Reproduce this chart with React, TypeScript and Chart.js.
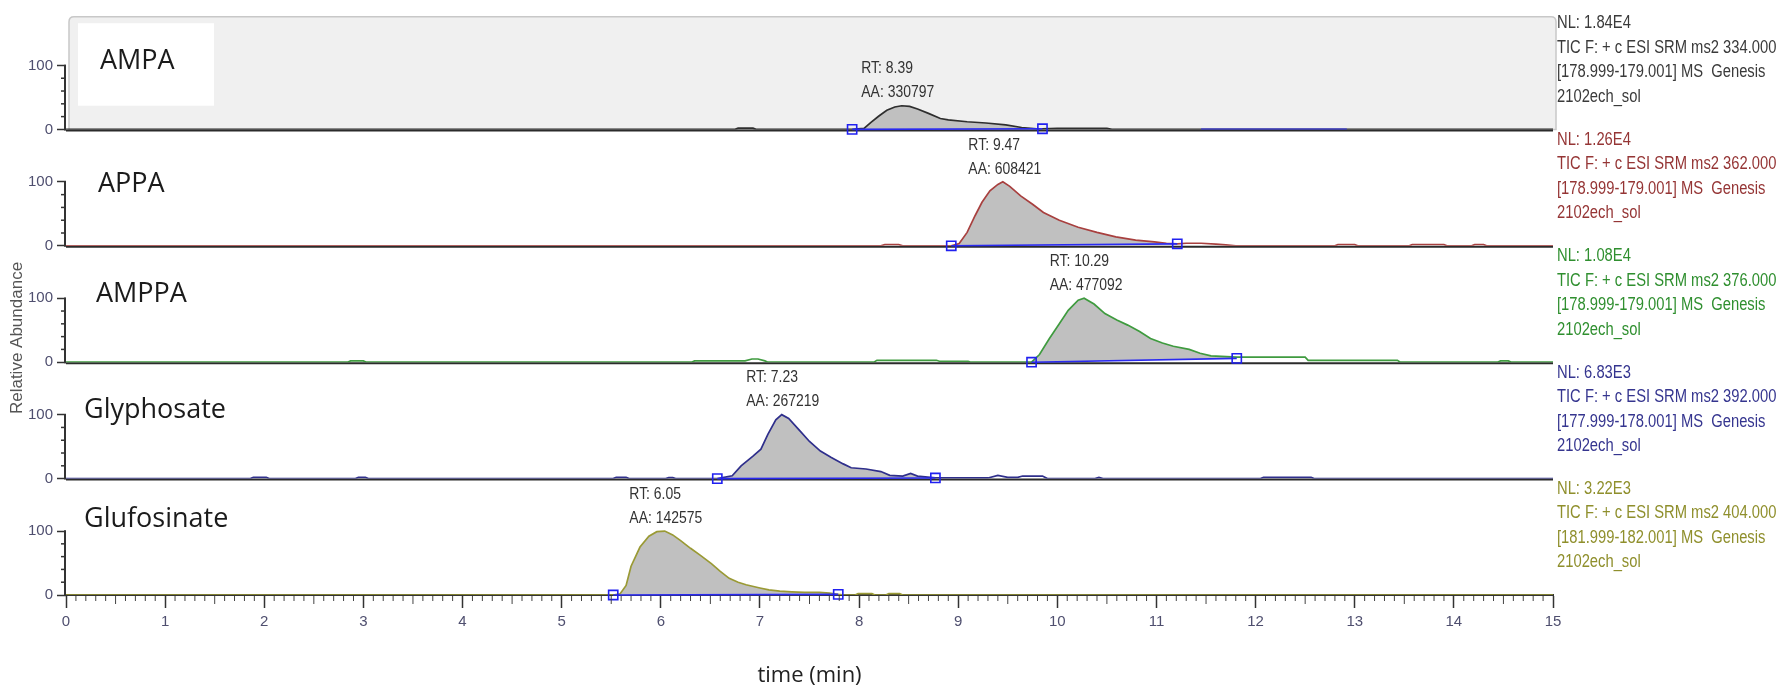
import React, { useEffect, useRef } from 'react';
import { Chart, registerables } from 'chart.js';

Chart.register(...registerables);

// ---------------- data ----------------
const panelNames = ['AMPA', 'APPA', 'AMPPA', 'Glyphosate', 'Glufosinate'];
const rtValues = [8.39, 9.47, 10.29, 7.23, 6.05];
const aaValues = [330797, 608421, 477092, 267219, 142575];
const nlValues = ['1.84E4', '1.26E4', '1.08E4', '6.83E3', '3.22E3'];
const precursorMz = ['334.000', '362.000', '376.000', '392.000', '404.000'];
const productRanges = ['178.999-179.001', '178.999-179.001', '178.999-179.001', '177.999-178.001', '181.999-182.001'];
const rawFileName = '2102ech_sol';
const xTitle = 'time (min)';
const yTitle = 'Relative Abundance';
const yLabeledTicks = [0, 100];
const yMinorTicks = [20, 40, 60, 80];

const ampaTime = [0, 6.75, 6.78, 6.93, 6.96, 7.93, 8.05, 8.12, 8.2, 8.28, 8.36, 8.43, 8.51, 8.59, 8.7, 8.82, 8.9, 9.09, 9.28, 9.48, 9.64, 9.79, 9.85, 10.0, 10.5, 10.55, 15];
const ampaAbund = [0, 0, 2, 2, 0, 0, 1.5, 11, 21, 30, 35, 37, 36, 32, 25, 17, 15, 12, 10, 7, 3, 1, 1, 1.5, 1.5, 0, 0];
const ampaBaseTime = [7.93, 9.85];
const ampaBaseAbund = [0, 1];
const ampaExtraTime = [11.45, 12.92];
const ampaExtraAbund = [0, 0];

const appaTime = [0, 8.22, 8.26, 8.4, 8.44, 8.93, 9.01, 9.09, 9.17, 9.24, 9.32, 9.4, 9.45, 9.52, 9.63, 9.75, 9.86, 10.02, 10.21, 10.4, 10.59, 10.79, 10.98, 11.1, 11.21, 11.3, 11.45, 11.6, 11.7, 11.8, 12.8, 12.83, 13.0, 13.03, 13.55, 13.58, 13.9, 13.93, 14.18, 14.21, 14.3, 14.33, 15];
const appaAbund = [0, 0, 2, 2, 0, 0, 3.5, 21, 47, 68, 86, 96, 100, 93, 78, 65, 52, 40, 29, 21, 14, 9, 6, 4, 3, 4, 4, 2.5, 1.5, 0, 0, 2, 2, 0, 0, 2, 2, 0, 0, 2, 2, 0, 0];
const appaBaseTime = [8.93, 11.21];
const appaBaseAbund = [0, 3];

const amppaTime = [0, 2.84, 2.87, 3.0, 3.03, 6.31, 6.34, 6.85, 6.92, 6.98, 7.05, 7.08, 8.15, 8.18, 8.78, 8.81, 9.1, 9.13, 9.74, 9.82, 9.92, 10.02, 10.11, 10.21, 10.27, 10.37, 10.48, 10.6, 10.71, 10.83, 10.94, 11.06, 11.17, 11.33, 11.44, 11.55, 11.81, 12.5, 12.53, 13.43, 13.46, 14.44, 14.47, 14.55, 14.58, 15];
const amppaAbund = [0, 0, 2, 2, 0, 0, 2, 2, 5, 5, 2, 0, 0, 3, 3, 1.5, 1.5, 0, 0, 12, 37, 60, 81, 97, 100, 91, 76, 66, 58, 48, 37, 30, 25, 20, 14, 10, 8, 8, 3, 3, 0, 0, 2, 2, 0, 0];
const amppaBaseTime = [9.74, 11.81];
const amppaBaseAbund = [0, 6];

const glyTime = [0, 1.86, 1.89, 2.02, 2.05, 2.92, 2.95, 3.02, 3.05, 5.52, 5.55, 5.65, 5.68, 6.05, 6.08, 6.12, 6.15, 6.57, 6.72, 6.81, 6.93, 7.01, 7.08, 7.16, 7.22, 7.29, 7.39, 7.5, 7.61, 7.72, 7.84, 7.92, 8.07, 8.22, 8.31, 8.44, 8.52, 8.59, 8.77, 9.3, 9.4, 9.5, 9.6, 9.65, 9.85, 9.9, 10.38, 10.42, 10.46, 12.05, 12.08, 12.56, 12.59, 15];
const glyAbund = [0, 0, 2, 2, 0, 0, 2, 2, 0, 0, 2, 2, 0, 0, 1.5, 1.5, 0, 0, 4.5, 20, 35, 46, 69, 92, 100, 94, 77, 58, 43, 33, 23, 17, 15, 11, 5, 4, 8, 4, 1, 1, 5, 2, 2, 4, 4, 0, 0, 2, 0, 0, 2, 2, 0, 0];
const glyBaseTime = [6.57, 8.77];
const glyBaseAbund = [0, 1];

const glufTime = [0, 5.52, 5.59, 5.65, 5.7, 5.79, 5.88, 5.96, 6.04, 6.12, 6.2, 6.3, 6.4, 6.51, 6.6, 6.69, 6.78, 6.86, 7.0, 7.09, 7.2, 7.32, 7.45, 7.6, 7.7, 7.79, 7.85, 7.96, 7.99, 8.13, 8.16, 8.27, 8.3, 8.41, 8.44, 15];
const glufAbund = [0, 0, 2, 15, 45, 75, 92, 99, 100, 94, 85, 73, 62, 49, 37, 26, 20, 16, 11, 8, 6, 5, 4, 4, 3, 1, 0, 0, 2, 2, 0, 0, 2, 2, 0, 0];
const glufBaseTime = [5.52, 7.79];
const glufBaseAbund = [0, 1];

// ---------------- styles ----------------
const SANS = "'Liberation Sans', Arial, sans-serif";
const NARROW_SCALE = 0.82;
const traceColors = ['#2e2e2e', '#a8403f', '#3f9b3f', '#2f2f8c', '#9a9a35'];
const infoColors = ['#3a3a3a', '#953535', '#2f8f2f', '#35358f', '#8f8f2c'];
const labelOffsetPx = [34, 32, 30, 18, 18];
const labelBaseValue = [95, 84, 94, 94, 106];
const axisIds = ['yP0', 'yP1', 'yP2', 'yP3', 'yP4'];
const tickColor = '#4f4f6f';

const traces = [
  { time: ampaTime, abund: ampaAbund, baseTime: ampaBaseTime, baseAbund: ampaBaseAbund },
  { time: appaTime, abund: appaAbund, baseTime: appaBaseTime, baseAbund: appaBaseAbund },
  { time: amppaTime, abund: amppaAbund, baseTime: amppaBaseTime, baseAbund: amppaBaseAbund },
  { time: glyTime, abund: glyAbund, baseTime: glyBaseTime, baseAbund: glyBaseAbund },
  { time: glufTime, abund: glufAbund, baseTime: glufBaseTime, baseAbund: glufBaseAbund },
];

const toPts = (t: number[], v: number[]) => t.map((x, i) => ({ x, y: v[i] }));

function buildDatasets() {
  const ds: any[] = [];
  traces.forEach((tr, i) => {
    const axis = axisIds[i];
    const s = tr.baseTime[0];
    const e = tr.baseTime[tr.baseTime.length - 1];
    const peak = toPts(tr.time, tr.abund).filter((p) => p.x >= s && p.x <= e);
    ds.push({
      label: panelNames[i] + ' area', data: peak, yAxisID: axis, fill: '+1',
      backgroundColor: '#c0c0c0', borderColor: 'rgba(0,0,0,0)', borderWidth: 0, pointRadius: 0, order: 3,
    });
    ds.push({
      label: panelNames[i] + ' baseline', data: toPts(tr.baseTime, tr.baseAbund), yAxisID: axis, fill: false,
      borderColor: '#2a2af0', borderWidth: 1.6, pointStyle: 'rect', pointRadius: 6.5,
      pointBorderColor: '#2020f0', pointBackgroundColor: 'rgba(0,0,0,0)', pointBorderWidth: 1.6, order: 1, clip: false,
    });
    ds.push({
      label: panelNames[i], data: toPts(tr.time, tr.abund), yAxisID: axis, fill: false,
      borderColor: traceColors[i], borderWidth: 1.7, pointRadius: 0, order: 2,
    });
  });
  ds.push({
    label: 'AMPA extra baseline', data: toPts(ampaExtraTime, ampaExtraAbund), yAxisID: axisIds[0], fill: false,
    borderColor: '#2a2af0', borderWidth: 1.6, pointRadius: 0, order: 1,
  });
  return ds;
}

function buildScales() {
  const scales: any = {
    x: {
      type: 'linear', position: 'bottom', min: 0, max: 15,
      ticks: { stepSize: 1, autoSkip: false, maxRotation: 0, padding: 5, color: tickColor, font: { family: SANS, size: 15 } },
      grid: { drawOnChartArea: false, tickLength: 13, tickColor: '#333', tickWidth: 1.5 },
      border: { display: true, color: '#333', width: 2 },
      title: { display: true, text: xTitle, color: '#222', font: { family: "'Open Sans', sans-serif", size: 22 }, padding: { top: 0, bottom: 0 } },
      afterFit: (s: any) => { s.height = 94; },
    },
  };
  for (let i = axisIds.length - 1; i >= 0; i--) {
    scales[axisIds[i]] = {
      type: 'linear', position: 'left', stack: 'panels', stackWeight: 1, min: 0, max: 182,
      afterBuildTicks: (s: any) => { s.ticks = yLabeledTicks.map((value) => ({ value })); },
      ticks: { autoSkip: false, padding: 4, color: tickColor, font: { family: SANS, size: 15 } },
      grid: { drawOnChartArea: false, tickLength: 9, tickColor: '#333', tickWidth: 1.5 },
      border: { display: false },
      afterFit: (s: any) => { s.width = 66; },
    };
  }
  return scales;
}

function line(ctx: CanvasRenderingContext2D, x1: number, y1: number, x2: number, y2: number) {
  ctx.beginPath();
  ctx.moveTo(x1, y1);
  ctx.lineTo(x2, y2);
  ctx.stroke();
}

// condensed text (Arial Narrow look) drawn as real text with horizontal scaling
function narrowText(ctx: CanvasRenderingContext2D, text: string, x: number, y: number) {
  ctx.save();
  ctx.translate(x, y);
  ctx.scale(NARROW_SCALE, 1);
  ctx.fillText(text, 0, 0);
  ctx.restore();
}

const decorPlugin = {
  id: 'decor',
  beforeDatasetsDraw(chart: any) {
    const { ctx, chartArea: a } = chart;
    const s0 = chart.scales[axisIds[0]];
    ctx.save();
    const top = s0.getPixelForValue(176);
    const bottom = s0.getPixelForValue(0);
    const l = a.left + 3;
    const r = a.right + 3;
    const rad = 5;
    ctx.beginPath();
    ctx.moveTo(l, bottom);
    ctx.lineTo(l, top + rad);
    ctx.quadraticCurveTo(l, top, l + rad, top);
    ctx.lineTo(r - rad, top);
    ctx.quadraticCurveTo(r, top, r, top + rad);
    ctx.lineTo(r, bottom);
    ctx.closePath();
    ctx.fillStyle = '#f0f0f0';
    ctx.fill();
    ctx.strokeStyle = '#c8c8c8';
    ctx.lineWidth = 1.5;
    ctx.stroke();
    const bt = s0.getPixelForValue(166);
    const bb = s0.getPixelForValue(37);
    ctx.fillStyle = '#ffffff';
    ctx.fillRect(a.left + 12, bt, 136, bb - bt);
    ctx.strokeStyle = '#2b2b2b';
    ctx.lineWidth = 2;
    for (let i = 0; i < axisIds.length - 1; i++) {
      const y = chart.scales[axisIds[i]].getPixelForValue(0) + 1;
      line(ctx, a.left, y, a.right, y);
    }
    ctx.restore();
  },
  afterDatasetsDraw(chart: any) {
    const { ctx, chartArea: a } = chart;
    const xs = chart.scales.x;
    ctx.save();
    ctx.strokeStyle = '#333';
    axisIds.forEach((id) => {
      const s = chart.scales[id];
      const y0 = s.getPixelForValue(0);
      const y100 = s.getPixelForValue(100);
      ctx.lineWidth = 2;
      line(ctx, a.left - 1, y0 + 1, a.left - 1, y100 - 0.75);
      ctx.lineWidth = 1.5;
      yMinorTicks.forEach((v) => {
        const y = s.getPixelForValue(v);
        line(ctx, a.left - 5, y, a.left, y);
      });
    });
    ctx.lineWidth = 1;
    ctx.strokeStyle = '#444';
    for (let k = 1; k < 150; k++) {
      if (k % 10 === 0) continue;
      const x = xs.getPixelForValue(k / 10);
      const len = k % 10 === 5 ? 8 : 5;
      line(ctx, x, a.bottom + 1, x, a.bottom + 1 + len);
    }
    // RT / AA annotations
    ctx.font = `17px ${SANS}`;
    ctx.fillStyle = '#333';
    ctx.textBaseline = 'middle';
    ctx.textAlign = 'left';
    traces.forEach((tr, i) => {
      const s = chart.scales[axisIds[i]];
      const apex = Math.max(...tr.abund);
      const px = xs.getPixelForValue(rtValues[i]);
      const py = s.getPixelForValue(apex);
      const aaText = 'AA: ' + aaValues[i];
      const rtText = 'RT: ' + rtValues[i].toFixed(2);
      const w = ctx.measureText(aaText).width * NARROW_SCALE;
      narrowText(ctx, rtText, px - w / 2, py - 37);
      narrowText(ctx, aaText, px - w / 2, py - 13);
    });
    // panel names
    ctx.font = "27px 'Open Sans', sans-serif";
    ctx.fillStyle = '#1b1b1b';
    ctx.textBaseline = 'alphabetic';
    panelNames.forEach((n, i) => {
      const s = chart.scales[axisIds[i]];
      ctx.fillText(n, a.left + labelOffsetPx[i], s.getPixelForValue(labelBaseValue[i]));
    });
    // right-hand info text
    ctx.font = `18px ${SANS}`;
    ctx.textBaseline = 'middle';
    panelNames.forEach((n, i) => {
      const s = chart.scales[axisIds[i]];
      const y0 = s.getPixelForValue(0);
      const lines = [
        'NL: ' + nlValues[i],
        'TIC F: + c ESI SRM ms2 ' + precursorMz[i],
        '[' + productRanges[i] + '] MS  Genesis',
        rawFileName,
      ];
      ctx.fillStyle = infoColors[i];
      lines.forEach((t, k) => narrowText(ctx, t, a.right + 4, y0 - 106 + k * 24.5));
    });
    // y title
    ctx.translate(17, 338);
    ctx.rotate(-Math.PI / 2);
    ctx.font = `17px ${SANS}`;
    ctx.fillStyle = '#555';
    ctx.textAlign = 'center';
    ctx.fillText(yTitle, 0, 0);
    ctx.restore();
  },
};

export default function App() {
  const ref = useRef<HTMLCanvasElement | null>(null);
  useEffect(() => {
    if (!ref.current) return;
    const chart = new Chart(ref.current, {
      type: 'line',
      data: { datasets: buildDatasets() },
      options: {
        responsive: false,
        animation: false,
        devicePixelRatio: 1,
        events: [],
        layout: { padding: { left: 0, right: 223, top: 10, bottom: 0 } },
        elements: { line: { tension: 0 } },
        plugins: { legend: { display: false }, tooltip: { enabled: false }, title: { display: false } },
        scales: buildScales(),
      },
      plugins: [decorPlugin],
    } as any);
    return () => chart.destroy();
  }, []);
  return (
    <div style={{ position: 'absolute', left: 0, top: 0, width: 1776, height: 689, background: '#fff' }}>
      <canvas ref={ref} width={1776} height={689} style={{ display: 'block' }} />
    </div>
  );
}
